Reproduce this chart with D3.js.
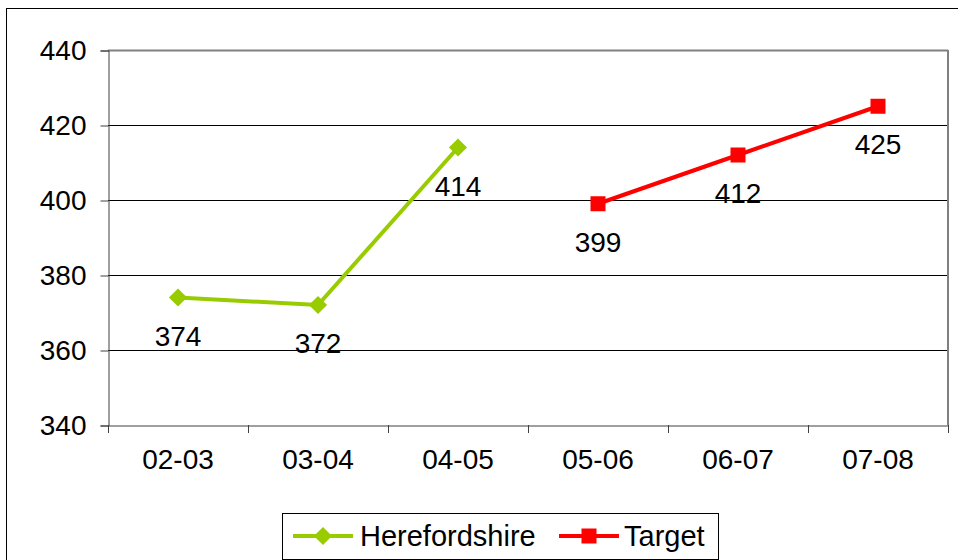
<!DOCTYPE html>
<meta charset="utf-8">
<style>
body {
  margin: 0;
  font-family: "Liberation Sans", Arial, sans-serif;
  background: #fff;
}
text {
  font-size: 28px;
  fill: #000;
}
</style>
<body>
<script src="https://cdn.jsdelivr.net/npm/d3@7"></script>
<script>

var years = ["02-03", "03-04", "04-05", "05-06", "06-07", "07-08"];
var hereford = [374, 372, 414, null, null, null];
var target = [null, null, null, 399, 412, 425];
var yTicks = [340, 360, 380, 400, 420, 440];

var width = 958,
    height = 560;

var plotLeft = 108, plotRight = 948, plotTop = 50, plotBottom = 425;

var diamond = "M-6.4,-6.4H6.4V6.4H-6.4Z",
    square = "M-7.5,-7.5H7.5V7.5H-7.5Z";

var svg = d3.select("body").append("svg")
    .attr("width", width)
    .attr("height", height);

// outer chart border
svg.append("rect")
    .attr("x", 6.5).attr("y", 8.5)
    .attr("width", 960).attr("height", 560)
    .style("fill", "none")
    .style("stroke", "#000")
    .style("stroke-width", 1);

var x = d3.scaleBand().domain(years).range([plotLeft, plotRight]);
var y = d3.scaleLinear().domain([340, 440]).range([plotBottom, plotTop]);

// grid
svg.selectAll(".grid")
    .data(yTicks.slice(1))
  .enter().append("line")
    .attr("x1", plotLeft).attr("x2", plotRight)
    .attr("y1", function(d) { return y(d) + 0.5; })
    .attr("y2", function(d) { return y(d) + 0.5; })
    .style("stroke", function(d) { return d === 440 ? "#808080" : "#000"; })
    .style("stroke-width", function(d) { return d === 440 ? 2 : 1; });

// right border of plot
svg.append("line")
    .attr("x1", plotRight).attr("x2", plotRight)
    .attr("y1", plotTop).attr("y2", plotBottom)
    .style("stroke", "#808080")
    .style("stroke-width", 2);

// y axis
var yAxis = svg.append("g")
    .attr("transform", "translate(" + (plotLeft + 0.5) + ",0.5)")
    .call(d3.axisLeft(y).tickValues(yTicks).tickSize(8).tickPadding(14));

// x axis
var xAxis = svg.append("g")
    .attr("transform", "translate(0," + (plotBottom + 0.5) + ")")
    .call(d3.axisBottom(x).tickSize(0).tickPadding(24));

svg.selectAll(".xtick")
    .data(years.map(function(d) { return x(d); }).concat([plotRight]))
  .enter().append("line")
    .attr("x1", function(d) { return Math.round(d) + 0.5; })
    .attr("x2", function(d) { return Math.round(d) + 0.5; })
    .attr("y1", plotBottom).attr("y2", plotBottom + 8)
    .style("stroke", "#404040");

[yAxis, xAxis].forEach(function(g) {
  g.select(".domain").style("stroke", "#404040");
  g.selectAll(".tick line").style("stroke", "#404040");
  g.selectAll("text")
    .style("font-family", "Liberation Sans, Arial, sans-serif")
    .style("font-size", "28px")
    .style("fill", "#000");
});

function cx(d, i) { return x(years[i]) + x.bandwidth() / 2; }

var line = d3.line()
    .defined(function(d) { return d !== null; })
    .x(cx)
    .y(function(d) { return y(d); });

function drawSeries(values, color, shape) {
  svg.append("path")
    .datum(values)
    .attr("d", line)
    .style("fill", "none")
    .style("stroke", color)
    .style("stroke-width", 4);

  var pts = values.map(function(v, i) { return {v: v, i: i}; })
    .filter(function(p) { return p.v !== null; });

  svg.selectAll(null)
    .data(pts)
  .enter().append("path")
    .attr("transform", function(p) { return "translate(" + cx(p.v, p.i) + "," + y(p.v) + ")" + (shape === "diamond" ? "rotate(45)" : ""); })
    .attr("d", shape === "diamond" ? diamond : square)
    .style("fill", color);

  svg.selectAll(null)
    .data(pts)
  .enter().append("text")
    .attr("x", function(p) { return cx(p.v, p.i); })
    .attr("y", function(p) { return y(p.v) + 48; })
    .attr("text-anchor", "middle")
    .text(function(p) { return p.v; });
}

drawSeries(hereford, "#99cc00", "diamond");
drawSeries(target, "#ff0000", "square");

// legend
var legend = svg.append("g");
legend.append("rect")
    .attr("x", 282.5).attr("y", 513.5)
    .attr("width", 436).attr("height", 46)
    .style("fill", "#fff")
    .style("stroke", "#000");

var items = [
  {name: "Herefordshire", color: "#99cc00", shape: "diamond", x: 293, tx: 360},
  {name: "Target", color: "#ff0000", shape: "square", x: 559, tx: 624}
];

items.forEach(function(it) {
  legend.append("line")
    .attr("x1", it.x).attr("x2", it.x + 60)
    .attr("y1", 536).attr("y2", 536)
    .style("stroke", it.color)
    .style("stroke-width", 4);
  legend.append("path")
    .attr("transform", "translate(" + (it.x + 30) + ",536)" + (it.shape === "diamond" ? "rotate(45)" : ""))
    .attr("d", it.shape === "diamond" ? diamond : square)
    .style("fill", it.color);
  legend.append("text")
    .attr("x", it.tx).attr("y", 546)
    .style("font-size", "29px")
    .text(it.name);
});

</script>
